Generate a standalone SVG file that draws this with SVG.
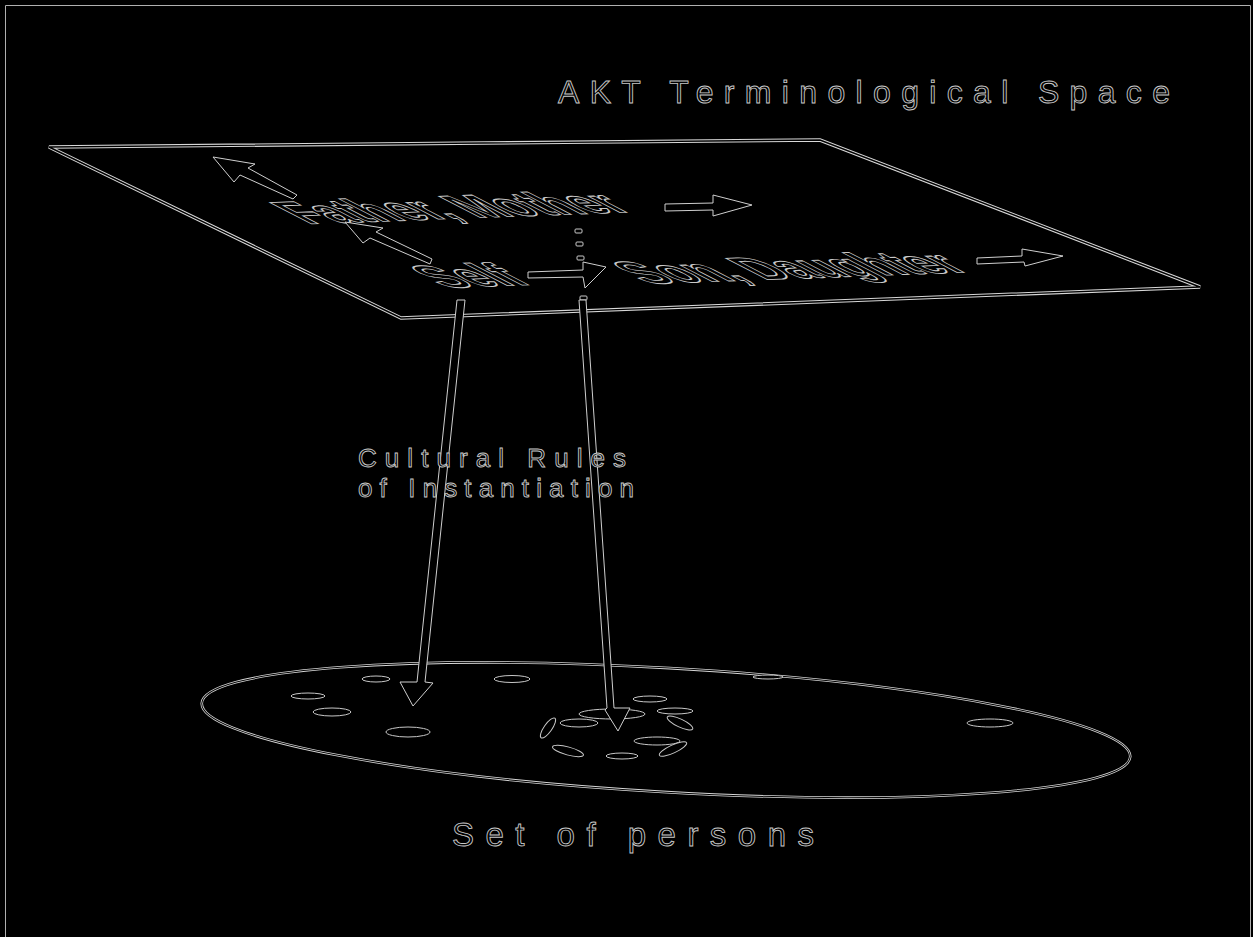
<svg xmlns="http://www.w3.org/2000/svg" width="1253" height="937" viewBox="0 0 1253 937">
<style>
.bg{fill:#000}
.o{fill:#000;stroke:#cfcfcf;stroke-width:1}
.t{font-family:"Liberation Sans",Arial,sans-serif;fill:#000;stroke:#c8c8c8;stroke-width:0.9}
.lbl{font-family:"Liberation Sans",Arial,sans-serif;font-weight:bold;font-size:50px;fill:#000;stroke:#c8c8c8;stroke-width:1.4}
.e1{fill:none;stroke:#d8d8d8;stroke-width:3.5}
.e2{fill:none;stroke:#000;stroke-width:1.4}
.blob{fill:#000;stroke:#c8c8c8;stroke-width:1}
.dash{fill:#000;stroke:#c8c8c8;stroke-width:1}
</style>
<defs>
<polygon id="planeShape" points="49,147 820,140 1200,287 401,318"/>
<ellipse id="setShape" cx="666" cy="730" rx="465" ry="62" transform="rotate(3.3 666 730)"/>
</defs>
<rect class="bg" x="0" y="0" width="1253" height="937"/>
<path d="M5.5,937 V5.5 H1250.5 V937" fill="none" stroke="#b0b0b0" stroke-width="1"/>

<g id="title">
<text class="t" x="558" y="103" font-size="32" textLength="612" lengthAdjust="spacing">AKT Terminological Space</text>
</g>

<g id="plane">
<use href="#planeShape" class="e1"/>
<use href="#planeShape" class="e2"/>
</g>

<g id="set-of-persons">
<use href="#setShape" class="e1" style="stroke-width:2.6"/>
<use href="#setShape" class="e2" style="stroke-width:1"/>
<g id="persons">
<ellipse class="blob" cx="376" cy="679" rx="14" ry="3"/>
<ellipse class="blob" cx="308" cy="696" rx="17" ry="3"/>
<ellipse class="blob" cx="332" cy="712" rx="19" ry="4"/>
<ellipse class="blob" cx="408" cy="732" rx="22" ry="5"/>
<ellipse class="blob" cx="512" cy="679" rx="18" ry="3.5"/>
<ellipse class="blob" cx="768" cy="677" rx="15" ry="2"/>
<ellipse class="blob" cx="990" cy="723" rx="23" ry="4"/>
<ellipse class="blob" cx="650" cy="699" rx="17" ry="3"/>
<ellipse class="blob" cx="675" cy="711" rx="18" ry="3"/>
<ellipse class="blob" cx="680" cy="723" rx="14" ry="4" transform="rotate(25 680 723)"/>
<ellipse class="blob" cx="612" cy="714" rx="33" ry="5"/>
<ellipse class="blob" cx="579" cy="723" rx="19" ry="4"/>
<ellipse class="blob" cx="548" cy="728" rx="12" ry="4" transform="rotate(-55 548 728)"/>
<ellipse class="blob" cx="657" cy="741" rx="23" ry="4"/>
<ellipse class="blob" cx="673" cy="749" rx="15" ry="4" transform="rotate(-25 673 749)"/>
<ellipse class="blob" cx="568" cy="751" rx="16" ry="4" transform="rotate(15 568 751)"/>
<ellipse class="blob" cx="622" cy="756" rx="16" ry="3"/>
</g>
</g>

<g id="label-father-mother">
<text class="lbl" transform="translate(308,224) matrix(0.95,-0.035,1.2,0.62,0,0)">Father, Mother</text>
</g>
<g id="label-self">
<text class="lbl" transform="translate(446,288) matrix(0.95,-0.035,1.2,0.62,0,0)">Self</text>
</g>
<g id="label-son-daughter">
<text class="lbl" transform="translate(648,284) matrix(0.95,-0.035,1.2,0.62,0,0)">Son, Daughter</text>
</g>

<g id="connectors">
<polygon class="o" points="213,157 255,164 248,168 297,195 293,199 240,175 234,182"/>
<polygon class="o" points="345,222 383,228 376,232 432,259 430,264 370,238 363,243"/>
<polygon class="o" points="665,204 713,203 713,195 752,205 713,216 713,210 665,211"/>
<polygon class="o" points="977,258 1022,256 1022,249 1063,256 1025,266 1024,262 977,264"/>
<polygon class="o" points="528,272 583,270 583,262 606,267 585,288 583,277 528,278"/>
<g id="dotted">
<rect class="dash" x="575" y="229" width="7" height="4" rx="1"/>
<rect class="dash" x="576" y="242" width="7" height="4" rx="1"/>
<rect class="dash" x="577" y="256" width="7" height="4" rx="1"/>
<rect class="dash" x="580" y="296" width="7" height="4" rx="1"/>
</g>
<polygon class="o" points="457,300 465,300 425,682 433,683 413,706 400,682 417,682"/>
<polygon class="o" points="579,300 586,300 614,708 630,708 618,731 605,710 607,708"/>
</g>

<g id="caption-rules">
<text class="t" x="358" y="467" font-size="26" textLength="268" lengthAdjust="spacing">Cultural Rules</text>
<text class="t" x="358" y="497" font-size="26" textLength="276" lengthAdjust="spacing">of Instantiation</text>
</g>

<g id="caption-set">
<text class="t" x="452" y="846" font-size="33" textLength="362" lengthAdjust="spacing">Set of persons</text>
</g>
</svg>
